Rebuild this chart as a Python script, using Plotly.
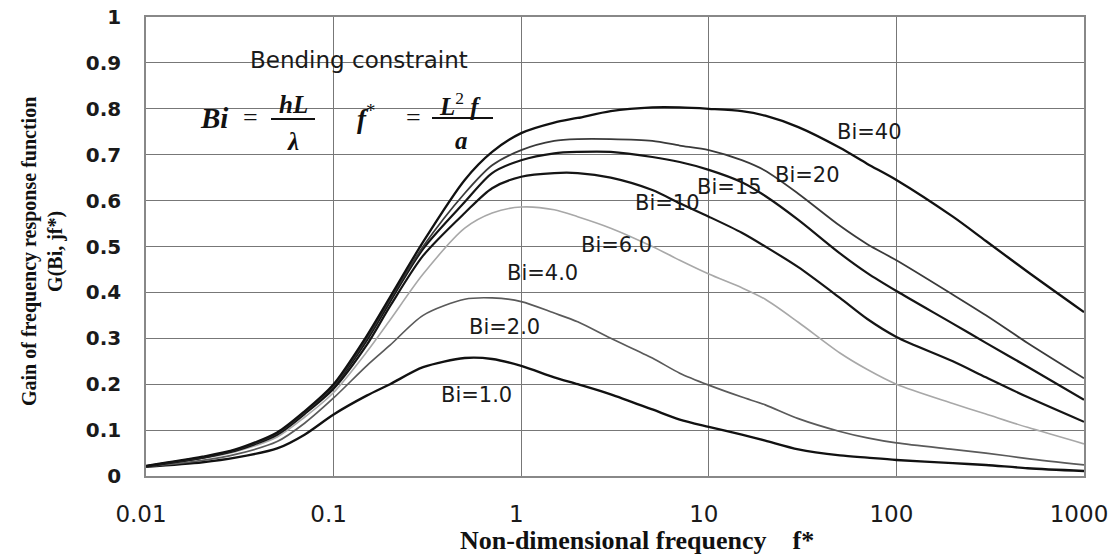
import plotly.graph_objects as go

# ---------------- data ----------------
f_star = [0.01, 0.02, 0.03, 0.05, 0.07, 0.1, 0.15, 0.2, 0.3, 0.5, 0.7, 1, 1.5, 2, 3, 5, 7,
          10, 15, 20, 30, 50, 70, 100, 200, 300, 500, 1000]

g_bi1 = [0.020, 0.030, 0.040, 0.060, 0.090, 0.134, 0.175, 0.200, 0.237, 0.257, 0.255, 0.240, 0.215,
         0.200, 0.178, 0.145, 0.123, 0.107, 0.090, 0.077, 0.058, 0.045, 0.040, 0.035, 0.028, 0.024,
         0.017, 0.011]
g_bi2 = [0.020, 0.034, 0.047, 0.075, 0.115, 0.170, 0.240, 0.285, 0.350, 0.385, 0.388, 0.380, 0.355,
         0.336, 0.300, 0.257, 0.224, 0.198, 0.172, 0.155, 0.125, 0.097, 0.083, 0.072, 0.058, 0.050,
         0.038, 0.024]
g_bi6 = [0.021, 0.038, 0.053, 0.085, 0.128, 0.182, 0.270, 0.340, 0.440, 0.540, 0.573, 0.586, 0.580,
         0.565, 0.540, 0.500, 0.470, 0.440, 0.410, 0.385, 0.335, 0.268, 0.232, 0.200, 0.158, 0.135,
         0.106, 0.070]
g_bi10 = [0.021, 0.040, 0.055, 0.090, 0.135, 0.190, 0.285, 0.370, 0.480, 0.573, 0.627, 0.652, 0.660,
          0.660, 0.650, 0.623, 0.594, 0.565, 0.530, 0.500, 0.455, 0.388, 0.342, 0.303, 0.250, 0.215,
          0.172, 0.118]
g_bi15 = [0.021, 0.040, 0.056, 0.092, 0.137, 0.195, 0.295, 0.380, 0.495, 0.597, 0.660, 0.688, 0.703,
          0.706, 0.706, 0.695, 0.684, 0.667, 0.640, 0.610, 0.558, 0.485, 0.442, 0.403, 0.332, 0.290,
          0.238, 0.166]
g_bi20 = [0.022, 0.041, 0.057, 0.093, 0.139, 0.197, 0.300, 0.385, 0.500, 0.616, 0.677, 0.710, 0.730,
          0.734, 0.734, 0.730, 0.720, 0.710, 0.688, 0.665, 0.615, 0.545, 0.505, 0.470, 0.395, 0.350,
          0.290, 0.213]
g_bi40 = [0.022, 0.042, 0.058, 0.095, 0.141, 0.200, 0.305, 0.390, 0.510, 0.645, 0.706, 0.747, 0.770,
          0.780, 0.795, 0.803, 0.803, 0.800, 0.795, 0.785, 0.760, 0.715, 0.680, 0.645, 0.565, 0.512,
          0.445, 0.357]

series_names = ["Bi=1.0", "Bi=2.0", "Bi=6.0", "Bi=10", "Bi=15", "Bi=20", "Bi=40"]
series_values = [g_bi1, g_bi2, g_bi6, g_bi10, g_bi15, g_bi20, g_bi40]

label_texts = ["Bi=40", "Bi=20", "Bi=15", "Bi=10", "Bi=6.0", "Bi=4.0", "Bi=2.0", "Bi=1.0"]

x_tickvals = [0.01, 0.1, 1, 10, 100, 1000]
x_ticktext = ["0.01", "0.1", "1", "10", "100", "1000"]
y_tickvals = [0, 0.1, 0.2, 0.3, 0.4, 0.5, 0.6, 0.7, 0.8, 0.9, 1]
y_ticktext = ["0", "0.1", "0.2", "0.3", "0.4", "0.5", "0.6", "0.7", "0.8", "0.9", "1"]

# ---------------- styling ----------------
BODY = 8                      # default page body margin
W, H = 1104, 550
L, R, T, B = 138, 28, 9, 82   # plot area in page pixels: x 146..1084, y 17..476
PW, PH = W - L - R, H - T - B


def px(x):
    return (x - BODY - L) / PW


def py(y):
    return (H + BODY - B - y) / PH


line_styles = {
    "Bi=1.0": dict(color="#111111", width=2.4),
    "Bi=2.0": dict(color="#5a5a5a", width=1.7),
    "Bi=6.0": dict(color="#a8a8a8", width=1.6),
    "Bi=10": dict(color="#151515", width=2.2),
    "Bi=15": dict(color="#151515", width=2.2),
    "Bi=20": dict(color="#3a3a3a", width=1.8),
    "Bi=40": dict(color="#111111", width=2.3),
}

fig = go.Figure()
for name, vals in zip(series_names, series_values):
    fig.add_trace(go.Scatter(x=f_star, y=vals, mode="lines", name=name,
                             line=dict(shape="spline", smoothing=0.8, **line_styles[name])))

label_pos = [(869, 132), (807, 175), (729, 187), (667, 203), (616, 245), (542, 273), (504, 327), (476, 395)]
annotations = []
for txt, (lx, ly) in zip(label_texts, label_pos):
    annotations.append(dict(text=txt, x=px(lx), y=py(ly), xref="paper", yref="paper",
                            showarrow=False, xanchor="center", yanchor="middle",
                            font=dict(family="DejaVu Sans", size=21, color="#1a1a1a")))

serif = "Liberation Serif"
formula = [
    ("Bending constraint", 359, 60, dict(family="DejaVu Sans", size=23, color="#1a1a1a")),
    ("<b><i>Bi</i></b>", 214, 118, dict(family=serif, size=29, color="#111")),
    ("=", 250, 118, dict(family=serif, size=26, color="#111")),
    ("<b><i>hL</i></b>", 293, 104, dict(family=serif, size=25, color="#111")),
    ("<b><i>λ</i></b>", 293, 141, dict(family=serif, size=25, color="#111")),
    ("<b><i>f</i></b><sup>*</sup>", 366, 117, dict(family=serif, size=27, color="#111")),
    ("=", 413, 118, dict(family=serif, size=26, color="#111")),
    ("<b><i>L</i></b><sup>2</sup> <b><i>f</i></b>", 460, 104, dict(family=serif, size=25, color="#111")),
    ("<b><i>a</i></b>", 461, 140, dict(family=serif, size=25, color="#111")),
]
for txt, fx, fy, fnt in formula:
    annotations.append(dict(text=txt, x=px(fx), y=py(fy), xref="paper", yref="paper",
                            showarrow=False, xanchor="center", yanchor="middle", font=fnt))

# axis titles
annotations.append(dict(text="<b>Non-dimensional frequency    f*</b>", x=px(637), y=py(540),
                        xref="paper", yref="paper", showarrow=False, xanchor="center", yanchor="middle",
                        font=dict(family=serif, size=26, color="#111")))
annotations.append(dict(text="<b>Gain of frequency response function<br>G(Bi, jf*)</b>", x=px(42), y=py(252),
                        xref="paper", yref="paper", showarrow=False, xanchor="center", yanchor="middle",
                        textangle=-90, font=dict(family=serif, size=20, color="#111")))

shapes = [
    # white boxes behind the formula text (above gridlines, below traces)
    dict(type="rect", xref="paper", yref="paper", x0=px(193), x1=px(527), y0=py(78), y1=py(42),
         fillcolor="white", line=dict(width=0), layer="between"),
    dict(type="rect", xref="paper", yref="paper", x0=px(193), x1=px(322), y0=py(160), y1=py(88),
         fillcolor="white", line=dict(width=0), layer="between"),
    dict(type="rect", xref="paper", yref="paper", x0=px(348), x1=px(502), y0=py(150), y1=py(88),
         fillcolor="white", line=dict(width=0), layer="between"),
    # fraction bars
    dict(type="line", xref="paper", yref="paper", x0=px(271), x1=px(315), y0=py(119), y1=py(119),
         line=dict(color="#111", width=2), layer="above"),
    dict(type="line", xref="paper", yref="paper", x0=px(432), x1=px(493), y0=py(118), y1=py(118),
         line=dict(color="#111", width=2), layer="above"),
]

fig.update_layout(
    width=W, height=H,
    margin=dict(l=L, r=R, t=T, b=B, pad=0, autoexpand=False),
    paper_bgcolor="white", plot_bgcolor="white",
    showlegend=False,
    annotations=annotations,
    shapes=shapes,
    xaxis=dict(type="log", range=[-2, 3], tickvals=x_tickvals, ticktext=x_ticktext,
               showgrid=True, gridcolor="#777777", gridwidth=1.2, automargin=False,
               showline=True, linecolor="#888888", linewidth=1.5, mirror=True,
               ticks="", ticklabelstandoff=17, ticklabelshift=-5, zeroline=False,
               ticklabeloverflow="allow",
               tickfont=dict(family="DejaVu Sans", size=23, color="#1a1a1a")),
    yaxis=dict(range=[0, 1], tickvals=y_tickvals, ticktext=y_ticktext,
               showgrid=True, gridcolor="#777777", gridwidth=1.2, automargin=False,
               showline=True, linecolor="#888888", linewidth=1.5, mirror=True,
               ticks="", ticklabelstandoff=19, zeroline=False,
               ticklabeloverflow="allow",
               tickfont=dict(family="DejaVu Sans", size=20, color="#1a1a1a", weight="bold")),
)

fig.write_html("out.html")
